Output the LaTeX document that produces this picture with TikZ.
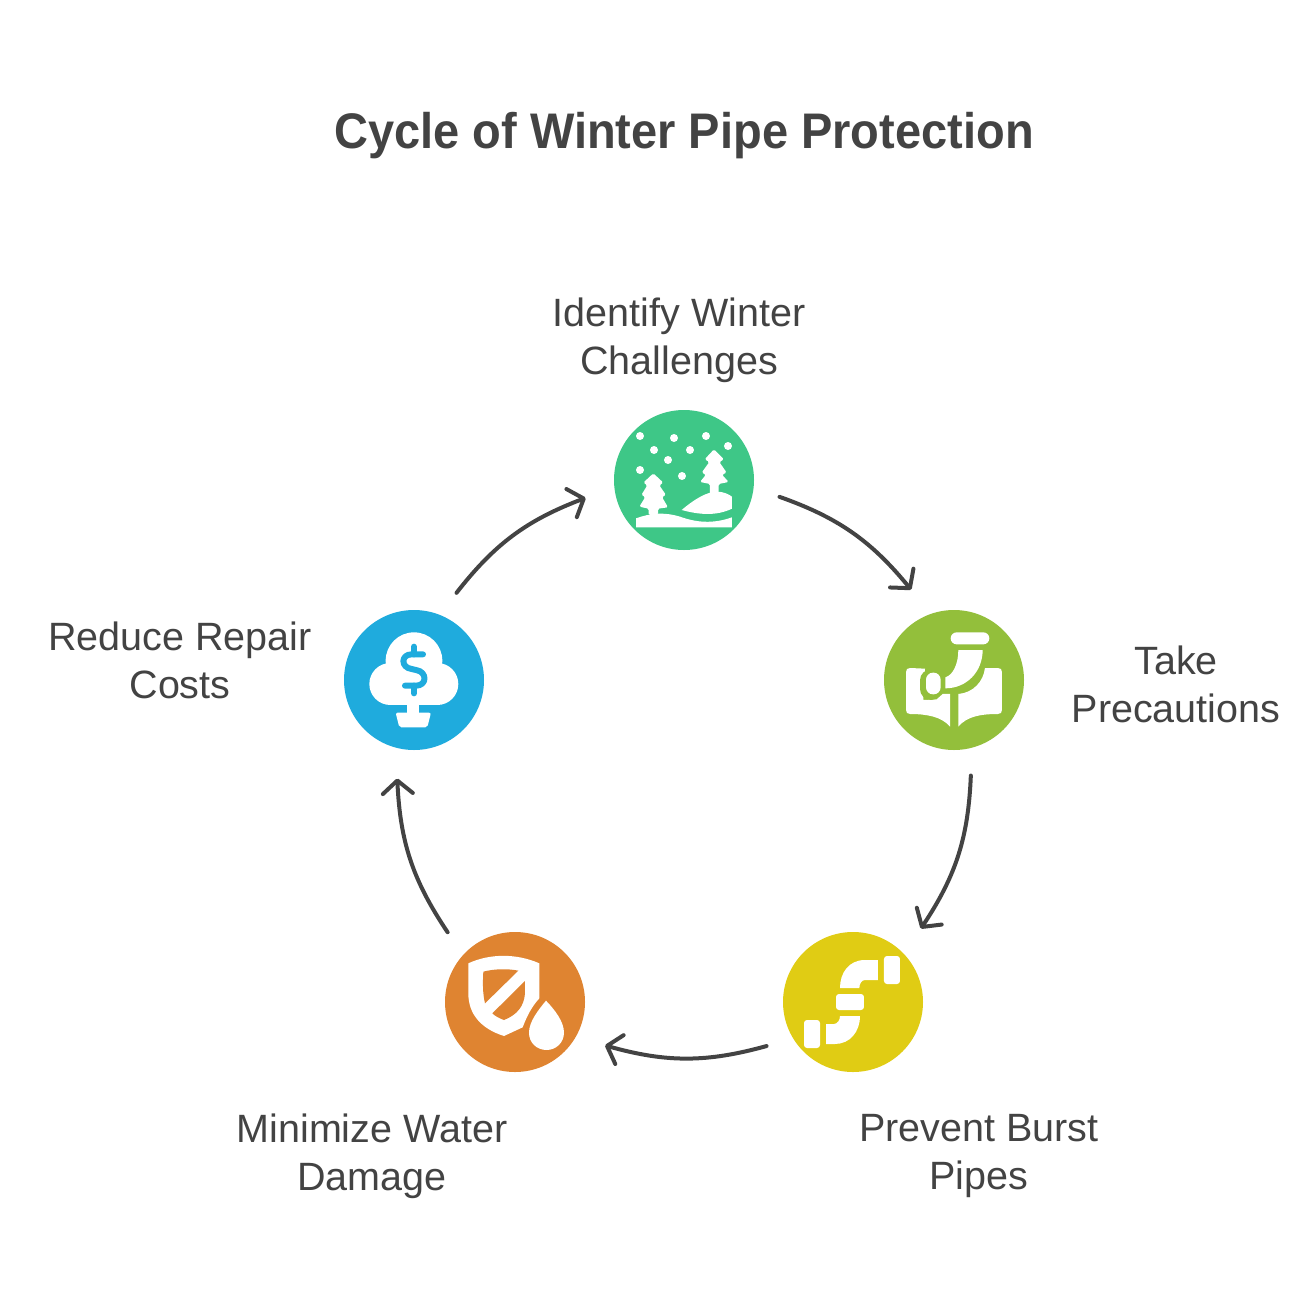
\documentclass[tikz,border=0pt]{standalone}
\usepackage{fontspec}
\setmainfont{Liberation Sans}
\newfontfamily\titlefont[FakeStretch=0.94]{Liberation Sans Bold}
\usetikzlibrary{arrows.meta,bending}
\definecolor{ink}{HTML}{434343}
\definecolor{cgreen}{HTML}{3EC787}
\definecolor{colive}{HTML}{93BF3B}
\definecolor{cyellow}{HTML}{E0CC14}
\definecolor{corange}{HTML}{DF8431}
\definecolor{cblue}{HTML}{1FABDD}
\tikzset{
  stagenode/.style={circle,fill=#1,minimum size=140pt,inner sep=0pt,outer sep=27pt},
  lbl/.style={text=ink,align=center,font=\fontsize{39.5}{48}\selectfont,inner sep=0pt},
  ttl/.style={text=ink,align=center,font=\titlefont\fontsize{50}{56}\selectfont,inner sep=0pt},
  arr/.style={draw=ink,line width=4pt,line cap=round,bend left=16,shorten >=3pt,-{Straight Barb[length=13pt,width=30pt,round,line width=4pt]}},
  icon/.style={shift={#1},x=0.3333pt,y=-0.3333pt},
  wf/.style={fill=white,draw=none},
}
\begin{document}
\begin{tikzpicture}[x=1pt,y=-1pt]
\useasboundingbox (0,0) rectangle (1296,1296);
\node[ttl] (title) at (684,136) {Cycle of Winter Pipe Protection};
\node[lbl] (t1) at (679,340) {Identify Winter\\Challenges};
\node[lbl] (t2) at (1176,684) {Take\\Precautions};
\node[lbl] (t3) at (979,1156) {Prevent Burst\\Pipes};
\node[lbl] (t4) at (372,1156) {Minimize Water\\Damage};
\node[lbl] (t5) at (180,660) {Reduce Repair\\Costs};
\node[stagenode=cgreen] (n1) at (684,480) {};
\node[stagenode=colive] (n2) at (954,680) {};
\node[stagenode=cyellow] (n3) at (853,1002) {};
\node[stagenode=corange] (n4) at (515,1002) {};
\node[stagenode=cblue] (n5) at (414,680) {};
\draw[arr] (n1.-10) to (n2.115);
\draw[arr] (n2.-80) to (n3.47);
\draw[arr] (n3.-153) to (n4.-26);
\draw[arr] (n4.134) to (n5.-100);
\draw[arr] (n5.64) to (n1.-170);
% icon 1
\begin{scope}[icon={(600,400)}]
\foreach \p in {(120,108),(222,114),(318,108),(384,138),(162,150),(270,150),(204,180),(120,210),(246,228)}
  \fill[white] \p circle[radius=12];
\fill[wf,rounded corners=1.5pt] (342,148)--(372,178)--(358,186)--(380,218)--(366,224)--(386,246)--(356,252)--(356,285)--(330,285)--(330,252)--(300,246)--(318,224)--(305,218)--(328,186)--(314,178)--cycle;
\fill[wf,rounded corners=1.5pt] (160,220)--(190,248)--(178,256)--(198,285)--(186,291)--(204,322)--(174,326)--(174,345)--(146,345)--(146,326)--(118,320)--(136,291)--(124,285)--(142,256)--(130,248)--cycle;
\fill[wf] (108,355) .. controls (150,340) and (190,335) .. (240,350) .. controls (290,368) and (340,372) .. (396,352) -- (396,382) -- (108,382) -- cycle;
\fill[wf] (245,330) .. controls (280,300) and (320,275) .. (350,275) .. controls (370,275) and (385,282) .. (396,290) -- (396,326) .. controls (350,348) and (300,345) .. (245,330) -- cycle;
\end{scope}
% icon 2
\begin{scope}[icon={(870,600)}]
\fill[wf,rounded corners=6pt] (242,97) rectangle (358,133);
\fill[wf] (265,150) -- (338,150) .. controls (338,215) and (290,265) .. (226,265) -- (226,232) .. controls (250,225) and (265,190) .. (265,150) -- cycle;
\fill[wf] (108,330) -- (108,216) .. controls (108,208) and (112,204) .. (120,204) -- (165,206) -- (160,300) -- (200,298) -- (218,282) -- (240,282) -- (240,380) .. controls (215,350) and (170,342) .. (120,342) .. controls (112,342) and (108,338) .. (108,330) -- cycle;
\fill[wf] (265,380) -- (265,282) .. controls (310,278) and (340,245) .. (345,204) -- (384,204) .. controls (392,204) and (396,208) .. (396,216) -- (396,330) .. controls (396,338) and (392,342) .. (384,342) .. controls (330,342) and (290,350) .. (265,380) -- cycle;
\fill[colive,rounded corners=11pt] (150,208) rectangle (216,300);
\fill[wf,rounded corners=7pt] (168,218) rectangle (212,283);
\end{scope}
% icon 3
\begin{scope}[icon={(770,920)}]
\fill[wf,rounded corners=3pt] (342,108) rectangle (390,192);
\fill[wf,rounded corners=3pt] (102,300) rectangle (150,384);
\fill[wf,rounded corners=3pt] (198,222) rectangle (282,270);
\fill[wf] (324,120) -- (324,180) -- (285,180) .. controls (275,180) and (268,192) .. (268,204) -- (210,204) .. controls (210,160) and (235,120) .. (285,120) -- cycle;
\fill[wf] (168,312) -- (192,312) .. controls (202,312) and (210,300) .. (210,288) -- (270,288) .. controls (270,335) and (240,372) .. (195,372) -- (168,372) -- cycle;
\end{scope}
% icon 4
\begin{scope}[icon={(430,920)}]
\fill[wf] (115,130) .. controls (180,100) and (260,100) .. (328,130) -- (328,235) .. controls (305,260) and (290,290) .. (278,322) -- (222,348) .. controls (150,325) and (115,280) .. (115,220) -- cycle;
\fill[corange] (160,155) .. controls (190,147) and (230,145) .. (265,152) -- (165,250) .. controls (158,220) and (158,190) .. (160,155) -- cycle;
\fill[corange] (285,183) -- (285,220) .. controls (282,260) and (260,285) .. (222,300) .. controls (208,295) and (195,288) .. (187,280) -- cycle;
\fill[wf] (348,242) .. controls (375,270) and (402,305) .. (402,338) .. controls (402,368) and (378,390) .. (350,390) .. controls (320,390) and (297,368) .. (297,338) .. controls (297,305) and (325,270) .. (348,242) -- cycle;
\end{scope}
% icon 5
\begin{scope}[icon={(330,600)}]
\fill[white] (252,182) circle[radius=85];
\fill[white] (181,252) circle[radius=63];
\fill[white] (322,252) circle[radius=63];
\fill[white] (181,230) rectangle (322,315);
\fill[white] (232,310) rectangle (268,345);
\fill[wf,rounded corners=2pt] (197,338) -- (303,338) -- (292,382) -- (208,382) -- cycle;
\draw[cblue,line width=6pt,line cap=round,line join=round] (279,163) -- (245,163) .. controls (212,163) and (212,203) .. (245,207) -- (258,210) .. controls (292,215) and (292,257) .. (258,257) -- (225,257);
\draw[cblue,line width=6pt,line cap=round] (252,140) -- (252,163) (252,257) -- (252,280);
\end{scope}
\end{tikzpicture}
\end{document}
